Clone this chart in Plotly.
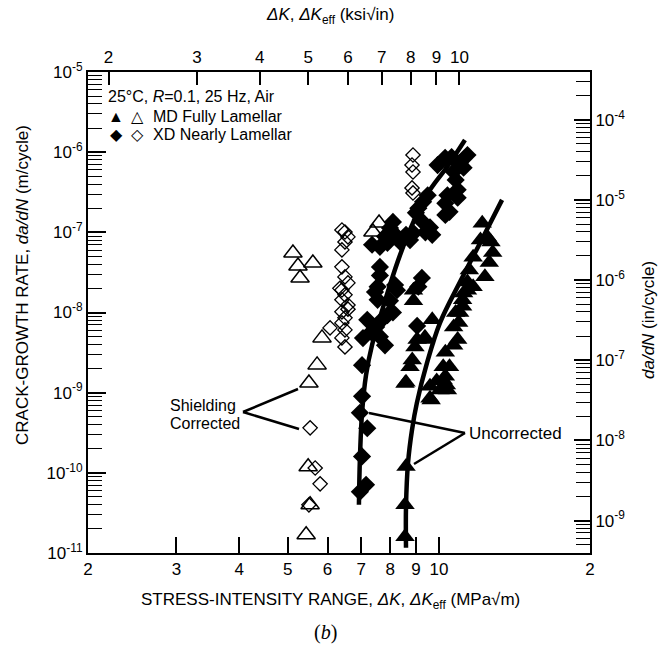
import math
import plotly.graph_objects as go

# ---------------- data ----------------
# Fitted curves (uncorrected)
xd_fit_dk = [6.93, 6.96, 7.03, 7.16, 7.36, 7.63, 7.99, 8.37, 8.88, 9.60, 10.38, 11.27]
xd_fit_dadn = [4.0e-11, 1.45e-10, 5.6e-10, 1.67e-9, 3.94e-9, 8.57e-9, 2.21e-8, 5.23e-8,
               1.31e-7, 3.38e-7, 6.54e-7, 1.42e-6]
md_fit_dk = [8.60, 8.60, 8.68, 8.84, 9.04, 9.47, 10.05, 11.02, 12.08, 13.36]
md_fit_dadn = [1.16e-11, 3.77e-11, 1.33e-10, 3.44e-10, 7.46e-10, 2.35e-9, 7.42e-9,
               2.41e-8, 7.38e-8, 2.54e-7]

# XD nearly lamellar, uncorrected (filled diamonds)
xd_unc_dk = [9.94, 10.29, 10.6, 11.0, 11.4, 11.2, 10.7, 10.8,
             9.5, 9.3, 10.4, 10.9, 10.9, 10.3, 10.5, 10.3,
             9.1, 9.0, 9.2, 8.1, 9.6, 9.7, 9.4,
             7.81, 8.25, 8.6, 8.9, 7.63, 7.9, 8.37, 8.76, 7.36, 7.99,
             7.63, 7.63, 7.55, 9.25, 9.1, 8.25, 8.18, 7.46, 7.55, 7.99, 8.1,
             7.2, 7.5, 7.33, 7.81, 7.63, 7.03, 7.06, 7.7, 7.9, 9.05,
             7.03, 6.96, 7.2, 7.03, 7.16, 6.96]
xd_unc_dadn = [6.9e-7, 8.5e-7, 8.7e-7, 7.3e-7, 9.2e-7, 6.4e-7, 5.7e-7, 4.5e-7,
               2.9e-7, 2.4e-7, 2.9e-7, 3.4e-7, 2.7e-7, 2.3e-7, 1.8e-7, 1.65e-7,
               2.0e-7, 1.75e-7, 1.43e-7, 1.35e-7, 1.15e-7, 9.3e-8, 1.0e-7,
               8.9e-8, 8.9e-8, 9.3e-8, 9.8e-8, 6.6e-8, 7.4e-8, 7.6e-8, 8.0e-8, 7.0e-8, 1.13e-7,
               3.7e-8, 2.9e-8, 2.1e-8, 2.7e-8, 2.1e-8, 1.9e-8, 2.2e-8, 1.8e-8, 1.44e-8, 1.4e-8, 1.0e-8,
               8.1e-9, 6.6e-9, 5.7e-9, 3.9e-9, 5.0e-9, 2.2e-9, 4.8e-9, 8.1e-9, 9.3e-9, 6.8e-9,
               9.0e-10, 5.6e-10, 3.6e-10, 1.6e-10, 7.1e-11, 5.8e-11]

# MD fully lamellar, uncorrected (filled triangles)
md_unc_dk = [12.2, 12.5, 12.7, 12.8, 12.1, 11.7, 11.5, 12.6, 12.35, 11.4, 11.2, 11.15,
             10.8, 10.7, 10.9, 10.3, 10.2, 10.2, 10.4, 11.4, 11.7, 11.15, 11.0, 10.95,
             8.9, 8.9, 9.7, 9.05, 9.4, 8.85, 8.76, 8.6, 10.7, 10.5, 10.3, 9.9, 9.6,
             10.05, 8.96, 9.38, 8.56, 9.6, 10.35, 9.65,
             8.6, 8.56, 8.56]
md_unc_dadn = [1.3e-7, 8.7e-8, 7.6e-8, 5.6e-8, 8.0e-8, 4.9e-8, 3.4e-8, 4.2e-8, 2.8e-8, 2.4e-8, 1.75e-8, 1.2e-8,
               1.0e-8, 6.6e-9, 4.6e-9, 3.2e-9, 2.1e-9, 1.44e-9, 1.08e-9, 1.9e-8, 2.1e-8, 1.44e-8, 1.0e-8, 7.5e-9,
               1.9e-8, 1.4e-8, 8.1e-9, 4.6e-9, 4.6e-9, 2.56e-9, 2.1e-9, 1.35e-9, 3.9e-9, 2.1e-9, 1.6e-9, 1.4e-9, 8.5e-10,
               1.08e-9, 3.7e-9, 4.9e-9, 1.3e-9, 1.2e-9, 1.25e-9, 8.1e-10,
               1.2e-10, 4.0e-11, 1.6e-11]

# MD fully lamellar, shielding corrected (open triangles)
md_cor_dk = [5.12, 5.24, 5.61, 5.29, 5.85, 5.72, 5.51, 5.49, 5.54, 5.44, 7.39, 7.60]
md_cor_dadn = [5.53e-8, 3.81e-8, 4.15e-8, 2.70e-8, 4.82e-9, 2.22e-9, 1.32e-9, 1.19e-10,
               3.99e-11, 1.69e-11, 1.01e-7, 1.31e-7]

# XD nearly lamellar, shielding corrected (open diamonds)
xd_cor_dk = [8.88, 8.84, 8.88, 8.84, 8.88,
             6.41, 6.50, 6.59, 6.50, 6.41, 6.41, 6.50, 6.59, 6.41, 6.50, 6.41, 6.59,
             6.41, 6.50, 6.41, 6.50, 6.41, 6.50, 6.35, 6.59,
             6.07, 5.54, 5.67, 5.80, 5.51]
xd_cor_dadn = [9.23e-7, 6.92e-7, 5.66e-7, 3.58e-7, 3.10e-7,
               1.07e-7, 1.01e-7, 8.77e-8, 7.59e-8, 6.04e-8, 3.71e-8, 2.78e-8, 2.34e-8, 1.91e-8, 1.66e-8, 1.44e-8, 1.24e-8,
               1.02e-8, 8.57e-9, 7.42e-9, 6.07e-9, 4.82e-9, 3.72e-9, 2.0e-8, 1.1e-8,
               6.43e-9, 3.64e-10, 1.15e-10, 7.29e-11, 3.99e-11]

# Axis tick definitions
x_ticks = [2, 3, 4, 5, 6, 7, 8, 9, 10, 20]
x_ticktext = ["2", "3", "4", "5", "6", "7", "8", "9", "10", "2"]
ksi_ticks = [2, 3, 4, 5, 6, 7, 8, 9, 10]
y_exps = [-11, -10, -9, -8, -7, -6, -5]
yin_exps = [-9, -8, -7, -6, -5, -4]

MPA_PER_KSI = 1.0988
IN_PER_M = 39.3701

FONT = "Liberation Sans, Arial, sans-serif"

fig = go.Figure()

line_style = dict(color="black", width=4.5, shape="spline")
fig.add_trace(go.Scatter(x=xd_fit_dk, y=xd_fit_dadn, mode="lines", line=line_style,
                         hoverinfo="skip", showlegend=False))
fig.add_trace(go.Scatter(x=md_fit_dk, y=md_fit_dadn, mode="lines", line=line_style,
                         hoverinfo="skip", showlegend=False))

fig.add_trace(go.Scatter(x=md_cor_dk, y=md_cor_dadn, mode="markers",
                         marker=dict(symbol="triangle-up-open", size=16, color="black", line=dict(width=1.5)),
                         showlegend=False))
fig.add_trace(go.Scatter(x=xd_cor_dk, y=xd_cor_dadn, mode="markers",
                         marker=dict(symbol="diamond-open", size=11, color="black", line=dict(width=1.3)),
                         showlegend=False))
fig.add_trace(go.Scatter(x=xd_unc_dk, y=xd_unc_dadn, mode="markers",
                         marker=dict(symbol="diamond", size=14, color="black"),
                         showlegend=False))
fig.add_trace(go.Scatter(x=md_unc_dk, y=md_unc_dadn, mode="markers",
                         marker=dict(symbol="triangle-up", size=17, color="black"),
                         showlegend=False))
# empty trace so that the secondary (ksi / in-per-cycle) axes are drawn
fig.add_trace(go.Scatter(x=[], y=[], xaxis="x2", yaxis="y2", mode="markers",
                         hoverinfo="skip", showlegend=False))

minor_y = [m * 10.0 ** e for e in y_exps[:-1] for m in range(2, 10)]
minor_yin = [m * 10.0 ** e for e in range(-10, -3) for m in range(2, 10)]

fig.update_layout(
    width=666, height=650,
    margin=dict(l=88, r=76, t=72, b=97),
    paper_bgcolor="white", plot_bgcolor="white",
    font=dict(family=FONT, size=16, color="black"),
    showlegend=False,
    xaxis=dict(type="log", range=[math.log10(2), math.log10(20)],
               tickmode="array", tickvals=x_ticks, ticktext=x_ticktext,
               ticks="inside", ticklen=16, tickwidth=1.5, tickcolor="black",
               showline=True, linecolor="black", linewidth=2, showgrid=False, zeroline=False,
               tickfont=dict(size=17)),
    xaxis2=dict(type="log", overlaying="x", side="top", anchor="y",
                range=[math.log10(2 / MPA_PER_KSI), math.log10(20 / MPA_PER_KSI)],
                tickmode="array", tickvals=ksi_ticks, ticktext=[str(v) for v in ksi_ticks],
                ticks="inside", ticklen=13, tickwidth=1.5, tickcolor="black",
                showline=True, linecolor="black", linewidth=2, showgrid=False, zeroline=False,
                tickfont=dict(size=17)),
    yaxis=dict(type="log", range=[-11, -5],
               tickmode="array", tickvals=[10.0 ** e for e in y_exps],
               ticktext=["10<sup>%d</sup>" % e for e in y_exps],
               ticks="inside", ticklen=18, tickwidth=1.5, tickcolor="black",
               minor=dict(tickmode="array", tickvals=minor_y, ticks="inside", ticklen=14,
                          tickwidth=1.3, tickcolor="black", showgrid=False),
               showline=True, linecolor="black", linewidth=2, showgrid=False, zeroline=False,
               tickfont=dict(size=17)),
    yaxis2=dict(type="log", overlaying="y", side="right", anchor="x",
                range=[math.log10(1e-11 * IN_PER_M), math.log10(1e-5 * IN_PER_M)],
                tickmode="array", tickvals=[10.0 ** e for e in yin_exps],
                ticktext=["10<sup>%d</sup>" % e for e in yin_exps],
                ticks="inside", ticklen=16, tickwidth=1.5, tickcolor="black",
                minor=dict(tickmode="array", tickvals=minor_yin, ticks="inside", ticklen=14,
                           tickwidth=1.3, tickcolor="black", showgrid=False),
                showline=True, linecolor="black", linewidth=2, showgrid=False, zeroline=False,
                tickfont=dict(size=17)),
)

# helper: pixel position of the plot frame -> paper coordinates
PL, PR, PT, PB = 88, 590, 72, 553
def px(xp):
    return (xp - PL) / (PR - PL)
def py(yp):
    return (PB - yp) / (PB - PT)

def note(text, x, y, size, xanchor="center", angle=0, family=FONT):
    fig.add_annotation(text=text, x=px(x), y=py(y), xref="paper", yref="paper",
                       showarrow=False, xanchor=xanchor, yanchor="middle",
                       textangle=angle, font=dict(family=family, size=size))

note("<i>ΔK</i>, <i>ΔK</i><sub>eff</sub> (ksi√in)", 330, 16, 17)
note("STRESS-INTENSITY RANGE, <i>ΔK</i>, <i>ΔK</i><sub>eff</sub> (MPa√m)", 330, 601, 17)
note("CRACK-GROWTH RATE, <i>da/dN</i> (m/cycle)", 22, 285, 17, angle=-90)
note("<i>da/dN</i> (in/cycle)", 648, 320, 17, angle=-90)
note("(<i>b</i>)", 325, 632, 20, family="Liberation Serif, Times New Roman, serif")

# in-plot key
note("25°C, <i>R</i>=0.1, 25 Hz, Air", 106, 97, 16, xanchor="left")
note("▲", 116, 116, 16)
note("△", 137, 116, 16)
note("MD Fully Lamellar", 151, 116, 16, xanchor="left")
note("◆", 116, 135, 16)
note("◇", 137, 135, 16)
note("XD Nearly Lamellar", 151, 135, 16, xanchor="left")

note("Shielding", 238, 405, 16, xanchor="right")
note("Corrected", 242, 423, 16, xanchor="right")
note("Uncorrected", 467, 433, 17, xanchor="left")

leader = [((243, 412), (298, 389)), ((243, 412), (299, 429)),
          ((465, 433), (369, 413)), ((465, 433), (414, 464))]
for (a, b) in leader:
    fig.add_shape(type="line", xref="paper", yref="paper", x0=px(a[0]), y0=py(a[1]),
                  x1=px(b[0]), y1=py(b[1]), line=dict(color="black", width=2.5))

fig.write_html("out.html", config={"displayModeBar": False})
